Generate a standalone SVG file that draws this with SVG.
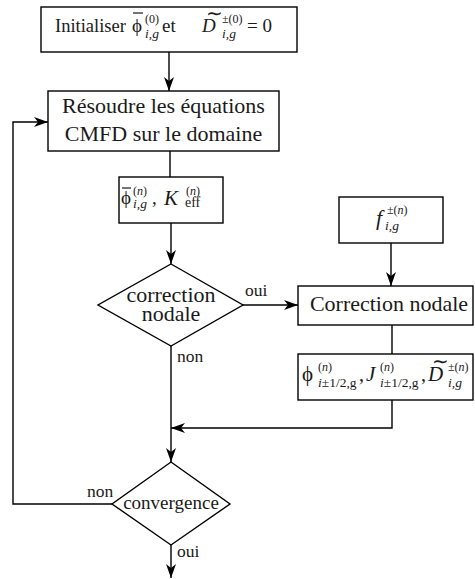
<svg xmlns="http://www.w3.org/2000/svg" width="475" height="579" viewBox="0 0 475 579">
<defs>
<marker id="arr" viewBox="0 0 14 10" refX="14" refY="5" markerWidth="14" markerHeight="10" markerUnits="userSpaceOnUse" orient="auto">
<path d="M0,0 L14,5 L0,10 L4,5 z" fill="#000"/>
</marker>
<style>
.box{fill:#fff;stroke:#000;stroke-width:1.4}
.t{font-family:"Liberation Serif","Times New Roman",serif;fill:#1a1a1a}
.m{font-size:22px}
.it{font-style:italic}
.sup{font-size:12px}
.sub{font-size:13.5px}
.lbl{font-size:17.5px}
.edge{fill:none;stroke:#000;stroke-width:1.4}
.bar{stroke:#1a1a1a;stroke-width:1.2}
</style>
</defs>
<rect width="475" height="579" fill="#fff"/>
<g id="connectors">
<line class="edge" x1="169" y1="52" x2="169" y2="91" marker-end="url(#arr)"/>
<line class="edge" x1="170" y1="151" x2="170" y2="177"/>
<line class="edge" x1="171" y1="223" x2="171" y2="264" marker-end="url(#arr)"/>
<line class="edge" x1="243" y1="305" x2="298" y2="305" marker-end="url(#arr)"/>
<line class="edge" x1="391" y1="243" x2="391" y2="286" marker-end="url(#arr)"/>
<line class="edge" x1="392" y1="325" x2="392" y2="354"/>
<polyline class="edge" points="392,400 392,428 171,428" marker-end="url(#arr)"/>
<line class="edge" x1="171" y1="346" x2="171" y2="462" marker-end="url(#arr)"/>
<polyline class="edge" points="112,504 13,504 13,122 48,122" marker-end="url(#arr)"/>
<line class="edge" x1="171" y1="545" x2="171" y2="578" marker-end="url(#arr)"/>
<text class="t lbl" x="245" y="296">oui</text>
<text class="t lbl" x="177" y="362">non</text>
<text class="t lbl" x="87" y="497">non</text>
<text class="t lbl" x="177" y="557">oui</text>
</g>
<g id="init">
<rect class="box" x="41" y="7" width="256" height="45"/>
<text class="t" font-size="18.5" x="55" y="32">Initialiser</text>
<line class="bar" x1="133" y1="13" x2="143" y2="13"/>
<text class="t" font-size="19" x="132" y="32">ϕ</text>
<text class="t sup" x="145" y="23">(0)</text>
<text class="t sub it" x="145" y="38">i,g</text>
<text class="t" font-size="19" x="162" y="32">et</text>
<text class="t it" font-size="19" x="202" y="32">D</text>
<text class="t" font-size="20" x="206" y="20">∼</text>
<text class="t sup" x="222" y="23">±(0)</text>
<text class="t sub it" x="222" y="38">i,g</text>
<text class="t" font-size="19" x="247" y="32">= 0</text>
</g>
<g id="solve">
<rect class="box" x="48" y="91" width="231" height="60"/>
<text class="t m" x="163.5" y="113" text-anchor="middle">Résoudre les équations</text>
<text class="t m" x="163.5" y="141" text-anchor="middle">CMFD sur le domaine</text>
</g>
<g id="flux">
<rect class="box" x="119" y="177" width="104" height="46"/>
<line class="bar" x1="122" y1="188" x2="131" y2="188"/>
<text class="t" font-size="19" x="121" y="204">ϕ</text>
<text class="t sup" x="133" y="195">(<tspan class="it">n</tspan>)</text>
<text class="t sub it" x="133" y="208">i,g</text>
<text class="t" font-size="19" x="152" y="204">,</text>
<text class="t it" font-size="21" x="164" y="205">K</text>
<text class="t sup" x="186" y="195">(<tspan class="it">n</tspan>)</text>
<text class="t" font-size="14" x="185" y="207">eff</text>
</g>
<g id="decision1">
<polygon class="box" points="171,264 243,305 171,346 98,305"/>
<text class="t m" x="171" y="302" text-anchor="middle">correction</text>
<text class="t m" x="171" y="321" text-anchor="middle">nodale</text>
</g>
<g id="fbox">
<rect class="box" x="339" y="197" width="104" height="46"/>
<text class="t it" font-size="22" x="376" y="225">f</text>
<text class="t sup" x="387" y="214">±(<tspan class="it">n</tspan>)</text>
<text class="t sub it" x="385" y="230">i,g</text>
</g>
<g id="nodal">
<rect class="box" x="298" y="286" width="175" height="39"/>
<text class="t m" x="389" y="311" text-anchor="middle">Correction nodale</text>
</g>
<g id="results">
<rect class="box" x="298" y="354" width="175" height="46"/>
<text class="t" font-size="21" x="302" y="381">ϕ</text>
<text class="t sup" x="318" y="371">(<tspan class="it">n</tspan>)</text>
<text class="t sub" x="318" y="387"><tspan class="it">i</tspan>±1/2,g</text>
<text class="t" font-size="20" x="359" y="381">,</text>
<text class="t it" font-size="21" x="366" y="381">J</text>
<text class="t sup" x="380" y="371">(<tspan class="it">n</tspan>)</text>
<text class="t sub" x="380" y="387"><tspan class="it">i</tspan>±1/2,g</text>
<text class="t" font-size="20" x="421" y="381">,</text>
<text class="t it" font-size="21" x="428" y="381">D</text>
<text class="t" font-size="20" x="432" y="368">∼</text>
<text class="t sup" x="448" y="371">±(<tspan class="it">n</tspan>)</text>
<text class="t sub it" x="448" y="387">i,g</text>
</g>
<g id="decision2">
<polygon class="box" points="171,462 230,504 171,545 112,504"/>
<text class="t" font-size="19" x="171" y="509" text-anchor="middle">convergence</text>
</g>
</svg>
